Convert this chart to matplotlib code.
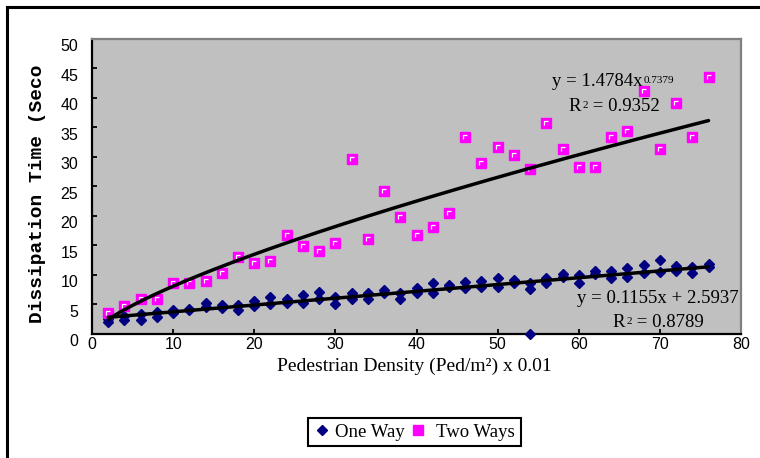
import numpy as np
import matplotlib
matplotlib.use("Agg")
from matplotlib import pyplot as plt
from matplotlib.path import Path
from matplotlib.lines import Line2D
from matplotlib.legend_handler import HandlerTuple
from matplotlib.transforms import ScaledTranslation

plt.rcParams['font.family'] = ['Liberation Sans', 'DejaVu Sans']

# pedestrian density (x 0.01 ped/m2)
density = [2, 4, 6, 8, 10, 12, 14, 16, 18, 20, 22, 24, 26, 28, 30, 32, 34, 36, 38,
           40, 42, 44, 46, 48, 50, 52, 54, 56, 58, 60, 62, 64, 66, 68, 70, 72, 74, 76]

# one way: two runs per density
one_way_a = [2.0, 2.4, 2.4, 2.9, 3.5, 4.0, 4.6, 4.4, 4.1, 4.8, 5.0, 5.2, 5.2, 6.0, 5.0,
             6.0, 6.0, 6.9, 6.0, 6.9, 7.0, 8.0, 7.7, 7.9, 8.0, 8.6, 7.6, 8.6, 9.7, 8.6,
             10.2, 9.4, 9.7, 10.3, 10.5, 10.7, 10.3, 11.4]
one_way_b = [2.6, 3.0, 3.3, 3.8, 4.0, 4.3, 5.3, 4.9, 4.9, 5.5, 6.2, 6.0, 6.6, 7.1, 6.3,
             6.9, 6.9, 7.4, 7.0, 7.7, 8.6, 8.3, 8.8, 9.0, 9.4, 9.2, 8.6, 9.4, 10.1, 10.0,
             10.7, 10.7, 11.1, 11.7, 12.5, 11.5, 11.4, 11.9]
one_way_extra_x = [54]
one_way_extra_y = [0.0]

two_ways = [3.6, 4.7, 6.0, 6.0, 8.7, 8.6, 9.0, 10.3, 13.1, 12.0, 12.4, 16.7, 14.9, 14.1,
            15.4, 29.6, 16.1, 24.2, 19.8, 16.8, 18.1, 20.5, 33.4, 28.9, 31.6, 30.3, 27.9,
            35.7, 31.3, 28.3, 28.3, 33.4, 34.3, 41.1, 31.3, 39.1, 33.3, 43.5]

# trend line coefficients shown on the chart
lin_slope, lin_icpt, lin_r2 = 0.1155, 2.5937, 0.8789
pow_coef, pow_exp, pow_r2 = 1.4784, 0.7379, 0.9352

W, H = 760, 458
fig = plt.figure(figsize=(W / 100, H / 100), dpi=100)
ax = fig.add_axes([92 / W, (H - 334) / H, 649 / W, 295.5 / H])
ax.set_facecolor('#c0c0c0')

navy = '#000080'
pink = '#ff00ff'
corner = Path([(-1, -1), (-1, 1), (1, 1)], [Path.MOVETO, Path.LINETO, Path.LINETO])

one_x = density + density + one_way_extra_x
one_y = one_way_a + one_way_b + one_way_extra_y
h_one, = ax.plot(one_x, one_y, linestyle='none', marker='D', markersize=5.4,
                 color=navy, clip_on=False, zorder=3)
h_two, = ax.plot(density, two_ways, linestyle='none', marker='s', markersize=7,
                 color=pink, clip_on=False, zorder=3)
h_two_c, = ax.plot(density, two_ways, linestyle='none', marker=corner, markersize=3.4,
                   markerfacecolor='none', markeredgecolor='white', markeredgewidth=0.9,
                   clip_on=False, zorder=3.1)

xs = np.linspace(min(density), max(density), 300)
ax.plot(xs, lin_slope * xs + lin_icpt, color='black', lw=2.5, zorder=4,
        solid_capstyle='round')
ax.plot(xs, pow_coef * xs ** pow_exp, color='black', lw=2.5, zorder=4,
        solid_capstyle='round')

serif = 'Liberation Serif'
fs = 13.5


def label(x, y, main, sup, tail=''):
    t = ax.text(x, y, main, fontsize=fs, family=serif, va='baseline', zorder=5)
    s = ax.annotate(sup, xy=(1, 1), xycoords=t, xytext=(1, -2), textcoords='offset points',
                    fontsize=8, family=serif, va='top', ha='left', zorder=5)
    if tail:
        ax.annotate(tail, xy=(1, 0), xycoords=(s, t), xytext=(0, 0),
                    textcoords='offset points', fontsize=fs, family=serif,
                    va='bottom', ha='left', zorder=5)
    return t


label(56.7, 41.9, 'y = %.4fx' % pow_coef, '%.4f' % pow_exp)
label(58.7, 37.7, 'R', '2', ' = %.4f' % pow_r2)
ax.text(59.8, 5.2, 'y = %.4fx + %.4f' % (lin_slope, lin_icpt), fontsize=fs,
        family=serif, va='baseline', zorder=5)
label(64.2, 1.2, 'R', '2', ' = %.4f' % lin_r2)

ax.set_xlim(0, 80)
ax.set_ylim(0, 50)
ax.set_xticks(range(0, 81, 10))
ax.set_yticks(range(0, 51, 5))
ax.tick_params(direction='in', length=3.6, width=1.3, labelsize=11.5, top=False,
               right=False)
ax.tick_params(axis='x', pad=2)
ax.tick_params(axis='y', pad=10)
for lbl in ax.get_yticklabels():
    lbl.set_transform(lbl.get_transform() + ScaledTranslation(0, -0.065, fig.dpi_scale_trans))

for side in ['left', 'bottom']:
    ax.spines[side].set_color('black')
    ax.spines[side].set_linewidth(1.6)
for side in ['top', 'right']:
    ax.spines[side].set_color('#808080')
    ax.spines[side].set_linewidth(1.6)

fig.text(414 / W, 1 - 366 / H, 'Pedestrian Density (Ped/m\u00b2) x 0.01', family=serif,
         fontsize=14, ha='center', va='center')
fig.text(38 / W, 1 - 194 / H, 'Dissipation Time (Seco', family='Liberation Mono',
         fontsize=14, weight='bold', rotation=90, ha='center', va='center')

leg = fig.legend(handles=[h_one, (h_two, h_two_c)], labels=['One Way', 'Two Ways'],
                 loc='center', bbox_to_anchor=(414.5 / W, 1 - 432 / H), ncol=2,
                 fancybox=False, edgecolor='black', framealpha=1,
                 handler_map={tuple: HandlerTuple(ndivide=None)},
                 prop={'family': serif, 'size': 13.5}, handlelength=0.8,
                 handletextpad=0.3, columnspacing=0.6, borderpad=0.3)
leg.get_frame().set_linewidth(1.5)

# outer chart border (top and left visible)
fig.add_artist(Line2D([6.5 / W, 6.5 / W], [0, 1 - 6.5 / H], transform=fig.transFigure,
                      color='black', lw=2.2))
fig.add_artist(Line2D([6.5 / W, 1], [1 - 6.5 / H, 1 - 6.5 / H], transform=fig.transFigure,
                      color='black', lw=2.2))

fig.savefig('out.png', dpi=100)
